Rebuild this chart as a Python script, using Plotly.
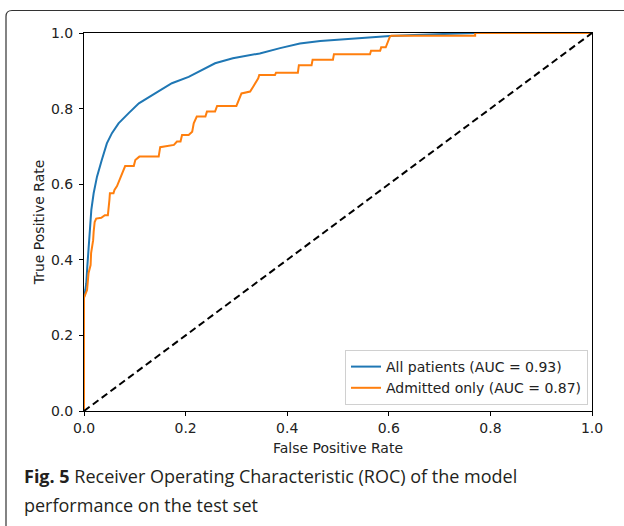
import plotly.graph_objects as go

# ---- data ----
all_fpr = [0, 0, 0.0026, 0.0045, 0.0065, 0.009, 0.0118, 0.0144, 0.019, 0.0256, 0.035, 0.045,
           0.055, 0.068, 0.088, 0.108, 0.14, 0.173, 0.206, 0.232, 0.258, 0.293, 0.346, 0.386,
           0.425, 0.465, 0.504, 0.55, 0.602, 0.65, 0.70, 0.77, 1.0]
all_tpr = [0, 0.30, 0.32, 0.338, 0.382, 0.426, 0.47, 0.532, 0.576, 0.62, 0.664, 0.708,
           0.735, 0.761, 0.788, 0.814, 0.84, 0.867, 0.884, 0.902, 0.92, 0.933, 0.946, 0.960,
           0.972, 0.979, 0.983, 0.987, 0.992, 0.995, 0.997, 1.0, 1.0]

adm_fpr = [0, 0, 0.003, 0.006, 0.009, 0.013, 0.014, 0.018, 0.019, 0.021, 0.024, 0.034, 0.041,
           0.047, 0.050, 0.051, 0.058, 0.060, 0.065, 0.075, 0.081, 0.098, 0.101, 0.109, 0.147,
           0.150, 0.177, 0.183, 0.190, 0.193, 0.206, 0.213, 0.216, 0.222, 0.239, 0.242, 0.258,
           0.262, 0.300, 0.310, 0.327, 0.333, 0.343, 0.345, 0.376, 0.378, 0.421, 0.423, 0.448,
           0.450, 0.490, 0.492, 0.563, 0.565, 0.583, 0.585, 0.594, 0.602, 0.605, 0.770, 0.770, 1.0]
adm_tpr = [0, 0.30, 0.31, 0.32, 0.365, 0.386, 0.418, 0.452, 0.474, 0.50, 0.509, 0.511, 0.518,
           0.518, 0.558, 0.576, 0.576, 0.585, 0.595, 0.629, 0.648, 0.648, 0.664, 0.673, 0.673,
           0.698, 0.704, 0.713, 0.713, 0.730, 0.730, 0.739, 0.761, 0.779, 0.779, 0.792, 0.792,
           0.807, 0.807, 0.840, 0.845, 0.858, 0.880, 0.889, 0.889, 0.895, 0.895, 0.915, 0.915,
           0.929, 0.929, 0.944, 0.944, 0.953, 0.953, 0.962, 0.962, 0.990, 0.993, 0.993, 1.0, 1.0]

chance = [0, 1]
labels = ["All patients (AUC = 0.93)", "Admitted only (AUC = 0.87)"]
ticks = [0.0, 0.2, 0.4, 0.6, 0.8, 1.0]

W, H = 624, 526
L, R, T, B = 84, 592, 33, 411
pw, ph = R - L, B - T

def px_x(x):
    return (x - L) / pw

def px_y(y):
    return (B - y) / ph

fig = go.Figure()
fig.add_trace(go.Scatter(x=all_fpr, y=all_tpr, mode="lines", name=labels[0],
                         line=dict(color="#1f77b4", width=2)))
fig.add_trace(go.Scatter(x=adm_fpr, y=adm_tpr, mode="lines", name=labels[1],
                         line=dict(color="#ff7f0e", width=2)))
fig.add_trace(go.Scatter(x=chance, y=chance, mode="lines", showlegend=False,
                         line=dict(color="black", width=2, dash="7px,4px")))

txt_font = dict(family="DejaVu Sans", size=14, color="#222")
axis_common = dict(range=[0, 1], tickvals=ticks, tickformat=".1f", ticks="outside",
                   ticklen=4, tickwidth=1, tickcolor="black", showline=True, mirror=True,
                   linecolor="black", linewidth=1, showgrid=False, zeroline=False,
                   tickfont=txt_font)

fig.update_xaxes(**axis_common, title=dict(text="False Positive Rate", standoff=8, font=txt_font))
fig.update_yaxes(**axis_common, ticklabelstandoff=3,
                 title=dict(text="True Positive Rate", standoff=3, font=txt_font))

# frame around figure (rounded top-left corner)
x0 = px_x(6); y0 = px_y(10.5); rx = 6 / pw; ry = 6 / ph
x1 = px_x(640); yb = px_y(540)
path = (f"M {x0},{yb} L {x0},{y0 - ry} Q {x0},{y0} {x0 + rx},{y0} L {x1},{y0}")
fig.add_shape(type="path", path=path, xref="paper", yref="paper",
              line=dict(color="#333", width=1.2))

cap_font = dict(family="Open Sans", size=18, color="#231f20")
fig.add_annotation(x=px_x(22), y=px_y(476), xref="paper", yref="paper", xanchor="left",
                   yanchor="middle", showarrow=False, align="left", font=cap_font,
                   text="<b>Fig. 5</b> Receiver Operating Characteristic (ROC) of the model")
fig.add_annotation(x=px_x(22), y=px_y(505), xref="paper", yref="paper", xanchor="left",
                   yanchor="middle", showarrow=False, align="left", font=cap_font,
                   text="performance on the test set")

fig.update_layout(
    width=W, height=H, margin=dict(l=L, r=W - R, t=T, b=H - B),
    paper_bgcolor="white", plot_bgcolor="white",
    legend=dict(x=px_x(588), y=px_y(405), xanchor="right", yanchor="bottom",
                bgcolor="rgba(255,255,255,0.8)", bordercolor="#d0d0d0", borderwidth=1,
                font=txt_font, tracegroupgap=0),
)

fig.write_html("out.html", config={"displayModeBar": False},
               post_script="document.body.style.margin='0';")
